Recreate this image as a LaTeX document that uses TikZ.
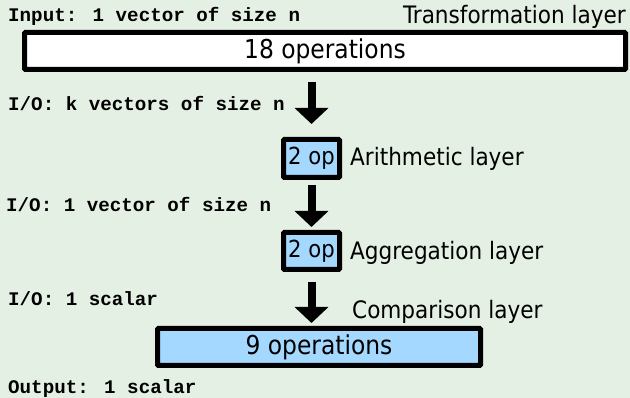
\documentclass[tikz,border=0pt]{standalone}
\usepackage{fontspec}
\usepackage{xcolor}
\usetikzlibrary{arrows.meta}
\setmainfont{DejaVu Sans Condensed}
\newfontfamily\iofont{Liberation Mono}
\definecolor{layerBg}{HTML}{E5F0E4}
\definecolor{layerBlue}{HTML}{A5D8FF}
\definecolor{layerInk}{HTML}{000000}

\begin{document}
\begin{tikzpicture}[x=1pt, y=-1pt,
    opbox/.style={draw=layerInk, line width=5pt, rounded corners=1pt,
      inner sep=0pt, font=\fontsize{26}{28}\selectfont},
    layername/.style={inner sep=0pt, font=\fontsize{24}{26}\selectfont},
    iotext/.style={inner sep=0pt, anchor=west,
      font=\iofont\bfseries\fontsize{19.2}{22}\selectfont},
    flow/.style={layerInk, line width=8pt,
      -{Triangle[width=33pt, length=16pt]}}]
  % Background
  \fill[layerBg] (0,0) rectangle (630,398);
  \useasboundingbox (0,0) rectangle (630,398);
  % Layers
  \node[opbox, fill=white, minimum width=601pt, minimum height=37pt]
    (trans) at (325,51) {18 operations};
  \node[opbox, fill=layerBlue, minimum width=56pt, minimum height=38pt,
    font=\fontsize{23.5}{26}\selectfont]
    (arith) at (311.5,158.5) {2 op};
  \node[opbox, fill=layerBlue, minimum width=56pt, minimum height=37pt,
    font=\fontsize{23.5}{26}\selectfont]
    (aggr) at (311.5,251) {2 op};
  \node[opbox, fill=layerBlue, minimum width=323pt, minimum height=37pt]
    (comp) at (319,347) {9 operations};
  % Layer names
  \node[layername, anchor=east] (transname) at (626,17) {Transformation layer};
  \node[layername, anchor=west] (arithname) at (350,159) {Arithmetic layer};
  \node[layername, anchor=west] (aggrname) at (350,253) {Aggregation layer};
  \node[layername, anchor=west] (compname) at (352,312) {Comparison layer};
  % Data passed between layers
  \node[iotext] (input) at (8,16) {Input: 1 vector of size n};
  \node[iotext] (iok) at (8,103) {I/O: k vectors of size n};
  \node[iotext] (iovec) at (6,204) {I/O: 1 vector of size n};
  \node[iotext] (ioscalar) at (8,299) {I/O: 1 scalar};
  \node[iotext] (output) at (8,389) {Output: 1 scalar};
  % Flow arrows
  \draw[flow, shorten <=10pt, shorten >=13pt] (arith.north |- trans.south) -- (arith.north);
  \draw[flow, shorten <=5pt, shorten >=3pt] (arith.south) -- (aggr.north);
  \draw[flow, shorten <=10pt, shorten >=3pt] (aggr.south) -- (aggr.south |- comp.north);
\end{tikzpicture}
\end{document}
